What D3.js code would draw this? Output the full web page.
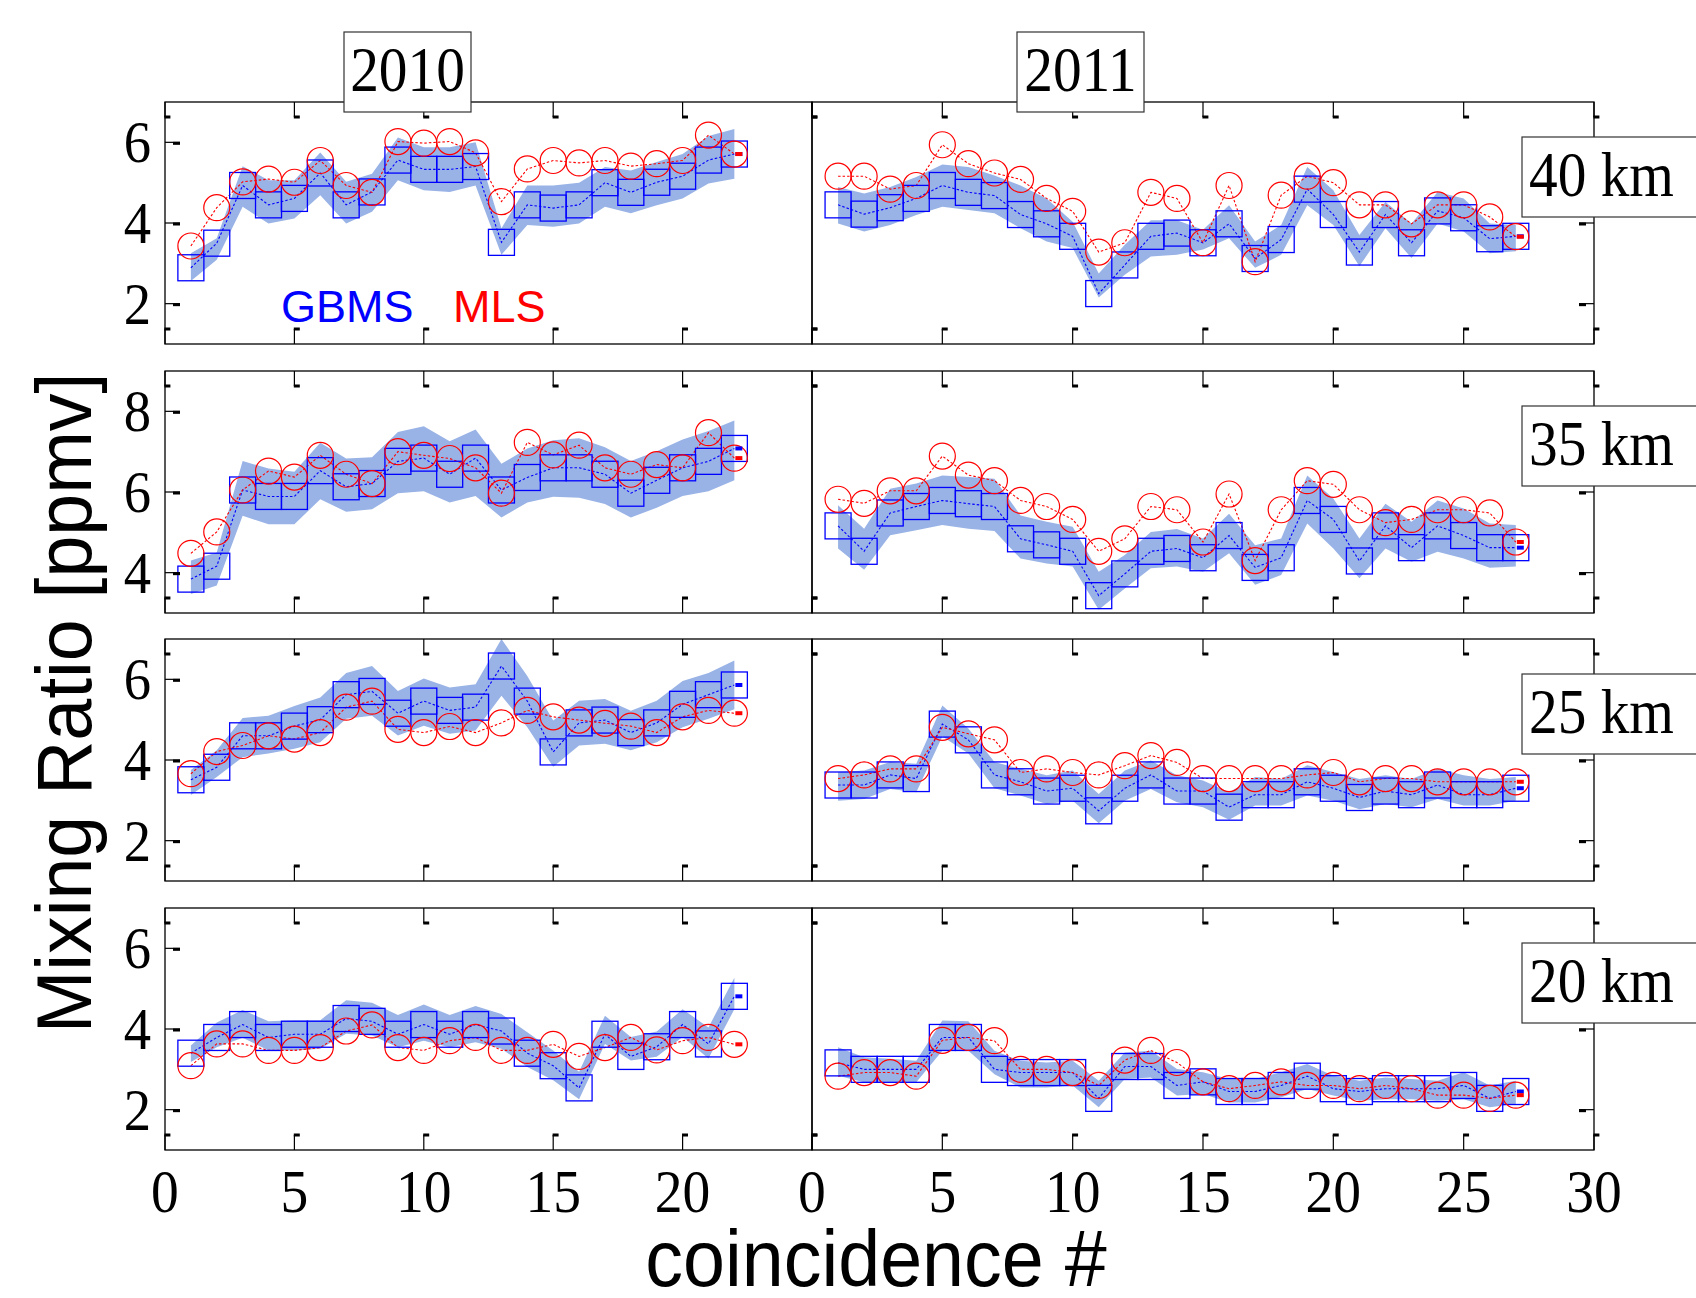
<!DOCTYPE html>
<html>
<head>
<meta charset="utf-8">
<script src="https://cdn.jsdelivr.net/npm/d3@7"></script>
<style>
  body { margin: 0; background: #fff; }
  svg { display: block; }
</style>
</head>
<body>
<svg id="chart" width="1696" height="1298"></svg>
<script>
// ---- categories, ticks ----
const levels = ["40 km", "35 km", "25 km", "20 km"];
const years = ["2010", "2011"];
const yDomains = [[1, 7], [3, 9], [1, 7], [1, 7]];
const yTickValues = [[2, 4, 6], [4, 6, 8], [2, 4, 6], [2, 4, 6]];
const xTicks2010 = [0, 5, 10, 15, 20];
const xTicks2011 = [0, 5, 10, 15, 20, 25, 30];

// ---- 40 km ----
const gbms40_2010 = [2.89,3.50,4.93,4.45,4.61,5.24,4.45,4.77,5.56,5.33,5.33,5.40,3.52,4.45,4.37,4.45,5.00,4.76,5.01,5.16,5.56,5.71];
const mls40_2010  = [3.43,4.38,5.02,5.09,5.01,5.55,4.93,4.76,6.02,5.98,6.02,5.74,4.53,5.34,5.55,5.49,5.55,5.41,5.47,5.55,6.18,5.71];
const hi40_2010   = [3.25,3.62,5.41,5.06,5.06,5.75,5.02,5.22,6.12,5.88,5.88,6.00,3.87,4.93,4.93,5.00,5.39,5.30,5.51,5.71,6.16,6.33];
const lo40_2010   = [2.56,3.09,4.40,3.99,4.11,4.69,3.99,4.28,5.06,4.81,4.77,4.93,3.21,3.95,3.91,3.99,4.40,4.24,4.44,4.61,4.98,5.10];

const gbms40_2011 = [4.45,4.22,4.38,4.61,4.93,4.76,4.68,4.21,3.98,3.67,2.25,2.96,3.67,3.75,3.51,3.98,3.12,3.59,4.84,4.21,3.28,4.21,3.51,4.30,4.13,3.61,3.67];
const mls40_2011  = [5.16,5.16,4.84,4.93,5.94,5.47,5.24,5.08,4.61,4.29,3.28,3.51,4.76,4.61,3.51,4.93,3.04,4.69,5.16,5.00,4.45,4.45,3.98,4.45,4.45,4.15,3.66];
const hi40_2011   = [4.89,4.73,4.89,5.14,5.45,5.39,5.18,4.93,4.61,4.03,2.75,3.46,4.07,4.07,3.83,4.44,3.54,3.95,5.39,4.81,3.70,4.52,3.99,4.77,4.61,3.99,3.95];
const lo40_2011   = [3.99,3.79,3.95,4.20,4.40,4.32,4.24,3.87,3.54,3.38,2.15,2.72,3.17,3.21,3.34,3.62,2.89,3.21,4.44,3.95,2.93,3.87,3.13,3.99,3.79,3.25,3.30];

// ---- 35 km ----
const gbms35_2010 = [3.84,4.16,6.05,5.89,5.89,6.53,6.13,6.21,6.76,6.84,6.44,6.84,6.05,6.36,6.60,6.60,6.44,5.97,6.29,6.60,6.76,7.08];
const mls35_2010  = [4.48,5.01,6.05,6.52,6.37,6.91,6.44,6.21,7.00,6.91,6.83,6.60,5.97,7.23,6.92,7.16,6.60,6.44,6.68,6.60,7.47,6.84];
const hi35_2010   = [4.30,4.50,6.77,6.58,6.50,7.22,6.83,6.86,7.49,7.63,7.26,7.55,6.70,7.08,7.28,7.33,7.11,6.77,7.01,7.30,7.51,7.77];
const lo35_2010   = [3.47,3.68,5.41,5.20,5.20,5.82,5.51,5.57,5.97,6.02,5.74,5.90,5.37,5.74,5.88,5.86,5.70,5.37,5.61,5.90,6.02,6.29];

const gbms35_2011 = [5.16,4.53,5.48,5.64,5.79,5.71,5.64,4.84,4.69,4.53,3.43,3.97,4.53,4.60,4.37,4.92,4.13,4.37,5.79,5.32,4.29,5.16,4.62,5.16,4.92,4.62,4.62];
const mls35_2011  = [5.82,5.72,6.03,6.03,6.89,6.42,6.28,5.79,5.64,5.32,4.53,4.84,5.64,5.56,4.76,5.95,4.30,5.56,6.28,6.19,5.56,5.24,5.32,5.56,5.56,5.48,4.76];
const hi35_2011   = [5.67,5.09,6.08,6.21,6.41,6.37,6.33,5.42,5.26,5.14,4.02,4.44,5.01,5.08,4.85,5.46,4.68,4.85,6.41,5.84,4.85,5.71,5.26,5.79,5.59,5.22,5.18];
const lo35_2011   = [4.60,4.07,4.93,5.05,5.18,5.09,5.03,4.35,4.23,4.15,3.08,3.61,4.11,4.15,4.02,4.48,3.70,3.94,5.22,4.60,3.86,4.60,4.27,4.52,4.35,4.12,4.15];

// ---- 25 km ----
const gbms25_2010 = [3.51,3.82,4.60,4.60,4.84,5.00,5.62,5.70,5.16,5.46,5.23,5.31,6.33,5.46,4.20,4.92,4.99,4.68,4.92,5.38,5.62,5.86];
const mls25_2010  = [3.66,4.21,4.36,4.60,4.52,4.68,5.31,5.46,4.76,4.68,4.83,4.68,4.92,5.23,5.07,4.99,4.91,4.84,4.68,5.07,5.23,5.16];
const hi25_2010   = [3.75,4.24,5.04,5.10,5.34,5.55,6.16,6.33,5.71,6.02,5.80,5.88,7.00,6.08,4.98,5.47,5.51,5.22,5.47,5.96,6.16,6.47];
const lo25_2010   = [3.13,3.58,4.07,4.16,4.28,4.44,5.02,5.10,4.61,4.85,4.65,4.73,5.59,4.81,3.83,4.36,4.40,4.24,4.44,4.81,5.02,5.26];

const gbms25_2011 = [3.38,3.38,3.63,3.54,4.89,4.50,3.63,3.46,3.23,3.30,2.74,3.30,3.63,3.23,3.23,2.83,3.14,3.14,3.46,3.30,3.07,3.23,3.14,3.38,3.14,3.14,3.30];
const mls25_2011  = [3.54,3.63,3.78,3.78,4.81,4.65,4.50,3.69,3.78,3.69,3.63,3.86,4.11,3.94,3.54,3.54,3.54,3.54,3.63,3.69,3.46,3.54,3.54,3.46,3.46,3.46,3.46];
const hi25_2011   = [3.70,3.74,3.95,3.91,5.35,4.78,3.95,3.78,3.62,3.74,3.16,3.74,3.99,3.62,3.49,3.20,3.58,3.53,3.87,3.70,3.53,3.62,3.53,3.78,3.62,3.53,3.58];
const lo25_2011   = [2.99,3.03,3.28,3.20,4.58,4.16,3.30,3.12,2.91,2.99,2.43,2.99,3.28,2.95,2.83,2.52,2.87,2.87,3.12,2.99,2.78,2.91,2.83,3.03,2.87,2.87,2.99];

// ---- 20 km ----
const gbms20_2010 = [3.40,3.79,4.11,3.79,3.87,3.87,4.26,4.19,3.87,4.11,3.87,4.11,3.95,3.40,3.09,2.54,3.87,3.32,3.56,4.11,3.63,4.81];
const mls20_2010  = [3.09,3.63,3.63,3.47,3.47,3.54,3.95,4.10,3.54,3.47,3.71,3.79,3.47,3.47,3.62,3.32,3.54,3.79,3.48,3.71,3.79,3.62];
const hi20_2010   = [3.59,4.16,4.47,4.19,4.22,4.22,4.71,4.65,4.35,4.61,4.35,4.57,4.37,3.92,3.47,2.94,4.33,3.80,3.94,4.49,4.04,5.27];
const lo20_2010   = [3.18,3.55,3.78,3.47,3.47,3.51,3.88,3.84,3.55,3.71,3.55,3.67,3.51,3.06,2.73,2.26,3.63,3.22,3.31,3.80,3.27,4.49];

const gbms20_2011 = [3.16,3.00,3.00,3.00,3.79,3.79,3.00,2.92,2.92,2.92,2.28,3.07,3.07,2.60,2.69,2.45,2.45,2.60,2.83,2.52,2.45,2.52,2.52,2.52,2.60,2.28,2.45];
const mls20_2011  = [2.83,2.92,2.92,2.83,3.72,3.79,3.71,3.00,3.00,2.92,2.60,3.23,3.47,3.17,2.69,2.52,2.60,2.69,2.60,2.60,2.52,2.60,2.52,2.36,2.36,2.28,2.36];
const hi20_2011   = [3.55,3.30,3.26,3.21,4.21,4.19,3.46,3.21,3.17,3.21,2.72,3.42,3.46,3.01,2.93,2.76,2.76,2.93,3.13,2.84,2.72,2.80,2.76,2.72,2.93,2.60,2.72];
const lo20_2011   = [2.84,2.68,2.68,2.68,3.46,3.46,2.88,2.55,2.55,2.60,2.06,2.76,2.80,2.35,2.39,2.18,2.18,2.31,2.51,2.35,2.22,2.26,2.26,2.22,2.26,2.06,2.14];

// panel table: rows = altitude, columns = year
const panels = [
  [{gbms: gbms40_2010, mls: mls40_2010, lo: lo40_2010, hi: hi40_2010},
   {gbms: gbms40_2011, mls: mls40_2011, lo: lo40_2011, hi: hi40_2011}],
  [{gbms: gbms35_2010, mls: mls35_2010, lo: lo35_2010, hi: hi35_2010},
   {gbms: gbms35_2011, mls: mls35_2011, lo: lo35_2011, hi: hi35_2011}],
  [{gbms: gbms25_2010, mls: mls25_2010, lo: lo25_2010, hi: hi25_2010},
   {gbms: gbms25_2011, mls: mls25_2011, lo: lo25_2011, hi: hi25_2011}],
  [{gbms: gbms20_2010, mls: mls20_2010, lo: lo20_2010, hi: hi20_2010},
   {gbms: gbms20_2011, mls: mls20_2011, lo: lo20_2011, hi: hi20_2011}]
];

// ---- layout ----
const rowTop = [102, 371, 639, 908];
const rowH = 242;
const colRange = [[165, 812], [812, 1594]];
const xDomains = [[0, 25], [0, 30]];
const xTickPos = [[0, 5, 10, 15, 20, 25], [0, 5, 10, 15, 20, 25, 30]];
const xTickLabels = [xTicks2010, xTicks2011];

const BLUE = "#0000ff", RED = "#ff0000", BAND = "rgb(153,179,230)";
const SERIF = "'Liberation Serif', 'Times New Roman', serif";
const SANS = "'Liberation Sans', Arial, Helvetica, sans-serif";
const SERIF_SX = 0.91;   // condensed serif lettering
const TICK = 15, NUB = 7;

const svg = d3.select("#chart");
const defs = svg.append("defs");

// serif label, horizontally condensed around its anchor point
function serifText(parent, x, y, str, anchor, size) {
  return parent.append("text")
    .attr("transform", `translate(${x},${y}) scale(${SERIF_SX},1)`)
    .attr("text-anchor", anchor).attr("font-family", SERIF).attr("font-size", size)
    .text(str);
}

function tickV(g, x, yEdge, dir) {
  const yEnd = yEdge + dir * TICK;
  g.append("line").attr("x1", x).attr("x2", x).attr("y1", yEdge).attr("y2", yEnd)
    .attr("stroke", "#000").attr("stroke-width", 1.2);
  g.append("rect").attr("x", x - 0.6).attr("y", yEnd - 1.5).attr("width", 6).attr("height", 3).attr("fill", "#000");
}
function tickH(g, xEdge, y, dir) {
  const xEnd = xEdge + dir * TICK;
  g.append("line").attr("x1", xEdge).attr("x2", xEnd).attr("y1", y).attr("y2", y)
    .attr("stroke", "#000").attr("stroke-width", 1.2);
  g.append("rect").attr("x", dir > 0 ? xEnd - NUB : xEnd).attr("y", y - 0.5)
    .attr("width", NUB).attr("height", 3).attr("fill", "#000");
}

panels.forEach((row, r) => {
  row.forEach((d, c) => {
    const x = d3.scaleLinear().domain(xDomains[c]).range(colRange[c]);
    const y = d3.scaleLinear().domain(yDomains[r]).range([rowTop[r] + rowH, rowTop[r]]);
    const x0 = colRange[c][0], x1 = colRange[c][1];
    const y0 = rowTop[r], y1 = rowTop[r] + rowH;
    const g = svg.append("g").attr("class", `panel r${r} c${c}`);

    const clipId = `clip-${r}-${c}`;
    defs.append("clipPath").attr("id", clipId)
      .append("rect").attr("x", x0).attr("y", y0).attr("width", x1 - x0).attr("height", y1 - y0);

    const idx = d3.range(d.gbms.length);  // coincidence number = i + 1

    // GBMS spread band
    const band = d3.area().x(i => x(i + 1)).y0(i => y(d.lo[i])).y1(i => y(d.hi[i]));
    g.append("path").datum(idx).attr("d", band).attr("fill", BAND)
      .attr("clip-path", `url(#${clipId})`);

    // dotted connecting lines
    const lineOf = arr => d3.line().x(i => x(i + 1)).y(i => y(arr[i]));
    g.append("path").datum(idx).attr("d", lineOf(d.gbms)).attr("fill", "none")
      .attr("stroke", BLUE).attr("stroke-width", 1.1).attr("stroke-dasharray", "2.5,2");
    g.append("path").datum(idx).attr("d", lineOf(d.mls)).attr("fill", "none")
      .attr("stroke", RED).attr("stroke-width", 1.1).attr("stroke-dasharray", "2.5,2");

    // GBMS squares
    g.selectAll("rect.gbms").data(idx).join("rect").attr("class", "gbms")
      .attr("x", i => x(i + 1) - 13).attr("y", i => y(d.gbms[i]) - 13)
      .attr("width", 26).attr("height", 26)
      .attr("fill", "none").attr("stroke", BLUE).attr("stroke-width", 1.3);

    // MLS circles
    g.selectAll("circle.mls").data(idx).join("circle").attr("class", "mls")
      .attr("cx", i => x(i + 1)).attr("cy", i => y(d.mls[i])).attr("r", 13)
      .attr("fill", "none").attr("stroke", RED).attr("stroke-width", 1.2);

    // short solid stubs at the line ends
    const last = idx.length - 1;
    g.append("rect").attr("x", x(last + 1) + 1).attr("y", y(d.gbms[last]) - 2)
      .attr("width", 7).attr("height", 4).attr("fill", BLUE);
    g.append("rect").attr("x", x(last + 1) + 1).attr("y", y(d.mls[last]) - 2)
      .attr("width", 7).attr("height", 4).attr("fill", RED);

    // frame
    g.append("rect").attr("x", x0).attr("y", y0).attr("width", x1 - x0).attr("height", y1 - y0)
      .attr("fill", "none").attr("stroke", "#000").attr("stroke-width", 1.3);

    // x ticks (top and bottom)
    xTickPos[c].forEach(t => {
      tickV(g, x(t), y0, 1);
      tickV(g, x(t), y1, -1);
    });

    // y ticks: left side for 2010, right side for 2011
    yTickValues[r].forEach(v => {
      if (c === 0) tickH(g, x0, y(v), 1);
      else tickH(g, x1, y(v), -1);
    });

    if (c === 0) {
      yTickValues[r].forEach(v => serifText(g, x0 - 14, y(v) + 20, String(v), "end", 60));
    }

    if (r === 3) {
      xTickLabels[c].forEach(t => serifText(g, x(t), 1212, String(t), "middle", 61));
    }

    // altitude label box on the right
    if (c === 1) {
      svg.append("rect").attr("x", 1522).attr("y", y0 + 35).attr("width", 190).attr("height", 80)
        .attr("fill", "#fff").attr("stroke", "#333").attr("stroke-width", 1.2);
      serifText(svg, 1529, y0 + 94, levels[r], "start", 63);
    }
  });
});

// year boxes
const yearBoxX = [344, 1017];
years.forEach((yr, c) => {
  svg.append("rect").attr("x", yearBoxX[c]).attr("y", 32).attr("width", 127).attr("height", 80)
    .attr("fill", "#fff").attr("stroke", "#333").attr("stroke-width", 1.2);
  serifText(svg, yearBoxX[c] + 63.5, 91, yr, "middle", 63);
});

// legend
svg.append("text").attr("x", 281).attr("y", 322).attr("font-family", SANS).attr("font-size", 45)
  .attr("fill", BLUE).text("GBMS");
svg.append("text").attr("x", 453).attr("y", 322).attr("font-family", SANS).attr("font-size", 45)
  .attr("fill", RED).text("MLS");

// axis titles
svg.append("text").attr("transform", "translate(91,703) rotate(-90) scale(0.965,1)")
  .attr("text-anchor", "middle").attr("font-family", SANS).attr("font-size", 78)
  .text("Mixing Ratio [ppmv]");
svg.append("text").attr("transform", "translate(876,1286) scale(0.955,1)")
  .attr("text-anchor", "middle").attr("font-family", SANS).attr("font-size", 79)
  .text("coincidence #");
</script>
</body>
</html>
